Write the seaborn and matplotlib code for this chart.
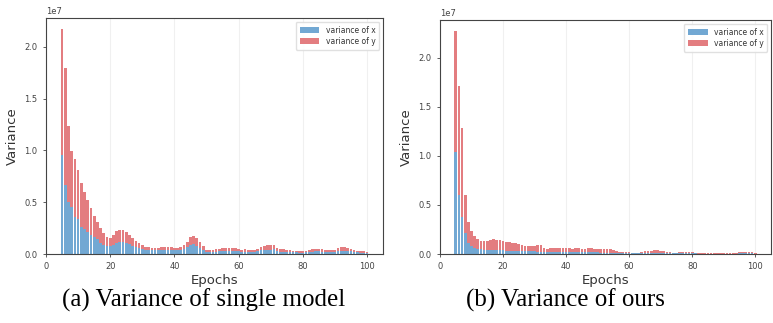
import numpy as np
import matplotlib.pyplot as plt
import seaborn as sns

# ── data (variance values in units of 1e6) ─────────────────────────────────────
SCALE = 1e6
epochs = list(range(5, 101))

single_var_x = [
    9.6, 6.7, 5.0, 4.5, 3.6, 3.4, 2.6, 2.4, 2.1, 1.8,
    1.6, 1.4, 1.1, 0.9, 0.8, 0.8, 0.9, 1.1, 1.2, 1.2,
    1.1, 1.0, 0.8, 0.7, 0.6, 0.5, 0.4, 0.4, 0.35, 0.35,
    0.35, 0.4, 0.4, 0.4, 0.4, 0.35, 0.35, 0.4, 0.5, 0.7,
    0.9, 1.0, 0.8, 0.6, 0.4, 0.2, 0.18, 0.18, 0.22, 0.25,
    0.28, 0.3, 0.3, 0.3, 0.28, 0.25, 0.2, 0.22, 0.2, 0.18,
    0.2, 0.25, 0.35, 0.4, 0.42, 0.42, 0.45, 0.3, 0.22, 0.22,
    0.2, 0.18, 0.15, 0.15, 0.12, 0.12, 0.15, 0.2, 0.22, 0.25,
    0.25, 0.22, 0.2, 0.2, 0.18, 0.2, 0.28, 0.32, 0.32, 0.3,
    0.25, 0.2, 0.15, 0.12, 0.12, 0.1,
]
single_var_y = [
    12.1, 11.3, 7.4, 5.4, 5.6, 4.7, 4.3, 3.6, 3.1, 2.6,
    2.1, 1.7, 1.4, 1.1, 0.8, 0.7, 0.9, 1.1, 1.1, 1.1,
    1.0, 0.8, 0.7, 0.6, 0.5, 0.4, 0.3, 0.3, 0.25, 0.25,
    0.25, 0.3, 0.3, 0.3, 0.3, 0.25, 0.25, 0.3, 0.4, 0.5,
    0.7, 0.7, 0.7, 0.6, 0.4, 0.2, 0.17, 0.17, 0.23, 0.25,
    0.27, 0.3, 0.3, 0.3, 0.27, 0.25, 0.2, 0.23, 0.2, 0.17,
    0.2, 0.25, 0.35, 0.4, 0.43, 0.43, 0.45, 0.3, 0.23, 0.23,
    0.2, 0.17, 0.15, 0.15, 0.13, 0.13, 0.15, 0.2, 0.23, 0.25,
    0.25, 0.23, 0.2, 0.2, 0.17, 0.2, 0.27, 0.33, 0.33, 0.3,
    0.25, 0.2, 0.15, 0.13, 0.13, 0.1,
]

ours_var_x = [
    10.4, 6.0, 3.8, 2.1, 1.1, 0.8, 0.6, 0.5, 0.5, 0.45,
    0.45, 0.45, 0.45, 0.4, 0.4, 0.4, 0.35, 0.35, 0.3, 0.3,
    0.3, 0.3, 0.28, 0.28, 0.28, 0.28, 0.25, 0.25, 0.25, 0.23,
    0.25, 0.25, 0.25, 0.25, 0.25, 0.25, 0.25, 0.25, 0.25, 0.25,
    0.25, 0.25, 0.25, 0.25, 0.25, 0.25, 0.15, 0.15, 0.15, 0.15,
    0.12, 0.1, 0.1, 0.1, 0.08, 0.08, 0.06, 0.06, 0.06, 0.08,
    0.1, 0.12, 0.12, 0.14, 0.14, 0.12, 0.1, 0.08, 0.08, 0.06,
    0.06, 0.08, 0.08, 0.1, 0.1, 0.08, 0.06, 0.05, 0.05, 0.05,
    0.05, 0.05, 0.05, 0.05, 0.05, 0.05, 0.05, 0.04, 0.04, 0.05,
    0.08, 0.1, 0.1, 0.1, 0.1, 0.05,
]
ours_var_y = [
    12.3, 11.1, 9.0, 3.9, 2.2, 1.5, 1.2, 1.0, 0.8, 0.85,
    0.85, 0.95, 1.05, 1.0, 1.0, 0.9, 0.85, 0.85, 0.8, 0.8,
    0.7, 0.6, 0.57, 0.57, 0.57, 0.57, 0.65, 0.65, 0.4, 0.27,
    0.35, 0.35, 0.35, 0.35, 0.4, 0.35, 0.35, 0.3, 0.35, 0.35,
    0.3, 0.3, 0.35, 0.35, 0.3, 0.3, 0.4, 0.35, 0.4, 0.35,
    0.28, 0.2, 0.15, 0.15, 0.12, 0.12, 0.09, 0.09, 0.09, 0.12,
    0.2, 0.23, 0.23, 0.26, 0.26, 0.23, 0.2, 0.12, 0.12, 0.09,
    0.09, 0.12, 0.12, 0.15, 0.15, 0.12, 0.09, 0.05, 0.05, 0.05,
    0.05, 0.05, 0.07, 0.07, 0.05, 0.05, 0.05, 0.04, 0.04, 0.05,
    0.12, 0.15, 0.15, 0.15, 0.15, 0.05,
]

captions = ["(a) Variance of single model", "(b) Variance of ours"]
legend_labels = ["variance of x", "variance of y"]

COLOR_X = "#72a8d3"
COLOR_Y = "#e37d80"

sns.set_style("ticks")
plt.rcParams.update({
    "axes.edgecolor": "#444444",
    "xtick.color": "#444444",
    "ytick.color": "#444444",
    "text.color": "#333333",
    "axes.labelcolor": "#333333",
})

fig = plt.figure(figsize=(7.73, 3.23), dpi=100)
ax_a = fig.add_axes([46 / 773, 69 / 323, 337 / 773, 236 / 323])
ax_b = fig.add_axes([440 / 773, 69 / 323, 331 / 773, 234 / 323])

panels = [(ax_a, single_var_x, single_var_y), (ax_b, ours_var_x, ours_var_y)]
for ax, vx, vy in panels:
    # stacked: draw the total (x + y) in red, then x in blue over it
    total = (np.array(vx) + np.array(vy)) * SCALE
    sns.barplot(x=epochs, y=total, native_scale=True, color=COLOR_Y,
                saturation=1, errorbar=None, ax=ax, label=legend_labels[1],
                linewidth=0, width=0.85)
    sns.barplot(x=epochs, y=np.array(vx) * SCALE, native_scale=True, color=COLOR_X,
                saturation=1, errorbar=None, ax=ax, label=legend_labels[0],
                linewidth=0, width=0.85)
    ax.set_xlim(0, 105)
    ax.set_xticks([0, 20, 40, 60, 80, 100])
    ax.set_yticks([0, 0.5e7, 1.0e7, 1.5e7, 2.0e7])
    ax.grid(axis="x", color="#f0f0f0", linewidth=0.8)
    ax.set_axisbelow(True)
    ax.tick_params(labelsize=6, length=2.5, width=0.6)
    ax.yaxis.get_offset_text().set_fontsize(6)
    for s in ax.spines.values():
        s.set_linewidth(0.8)
    ax.set_xlabel("Epochs", fontsize=9.5, labelpad=2)
    ax.set_ylabel("Variance", fontsize=9.5, labelpad=4)
    h, l = ax.get_legend_handles_labels()
    ax.legend(h[::-1], l[::-1], loc="upper right", fontsize=5.5,
              handlelength=2.6, handleheight=0.9, borderpad=0.5,
              labelspacing=0.3, framealpha=0.9, edgecolor="#dddddd",
              fancybox=True)

fig.text(0.264, 0.07, captions[0], family="Liberation Serif", fontsize=18,
         ha="center", va="center", color="black")
fig.text(0.732, 0.07, captions[1], family="Liberation Serif", fontsize=18,
         ha="center", va="center", color="black")

fig.savefig("out.png", dpi=100)
